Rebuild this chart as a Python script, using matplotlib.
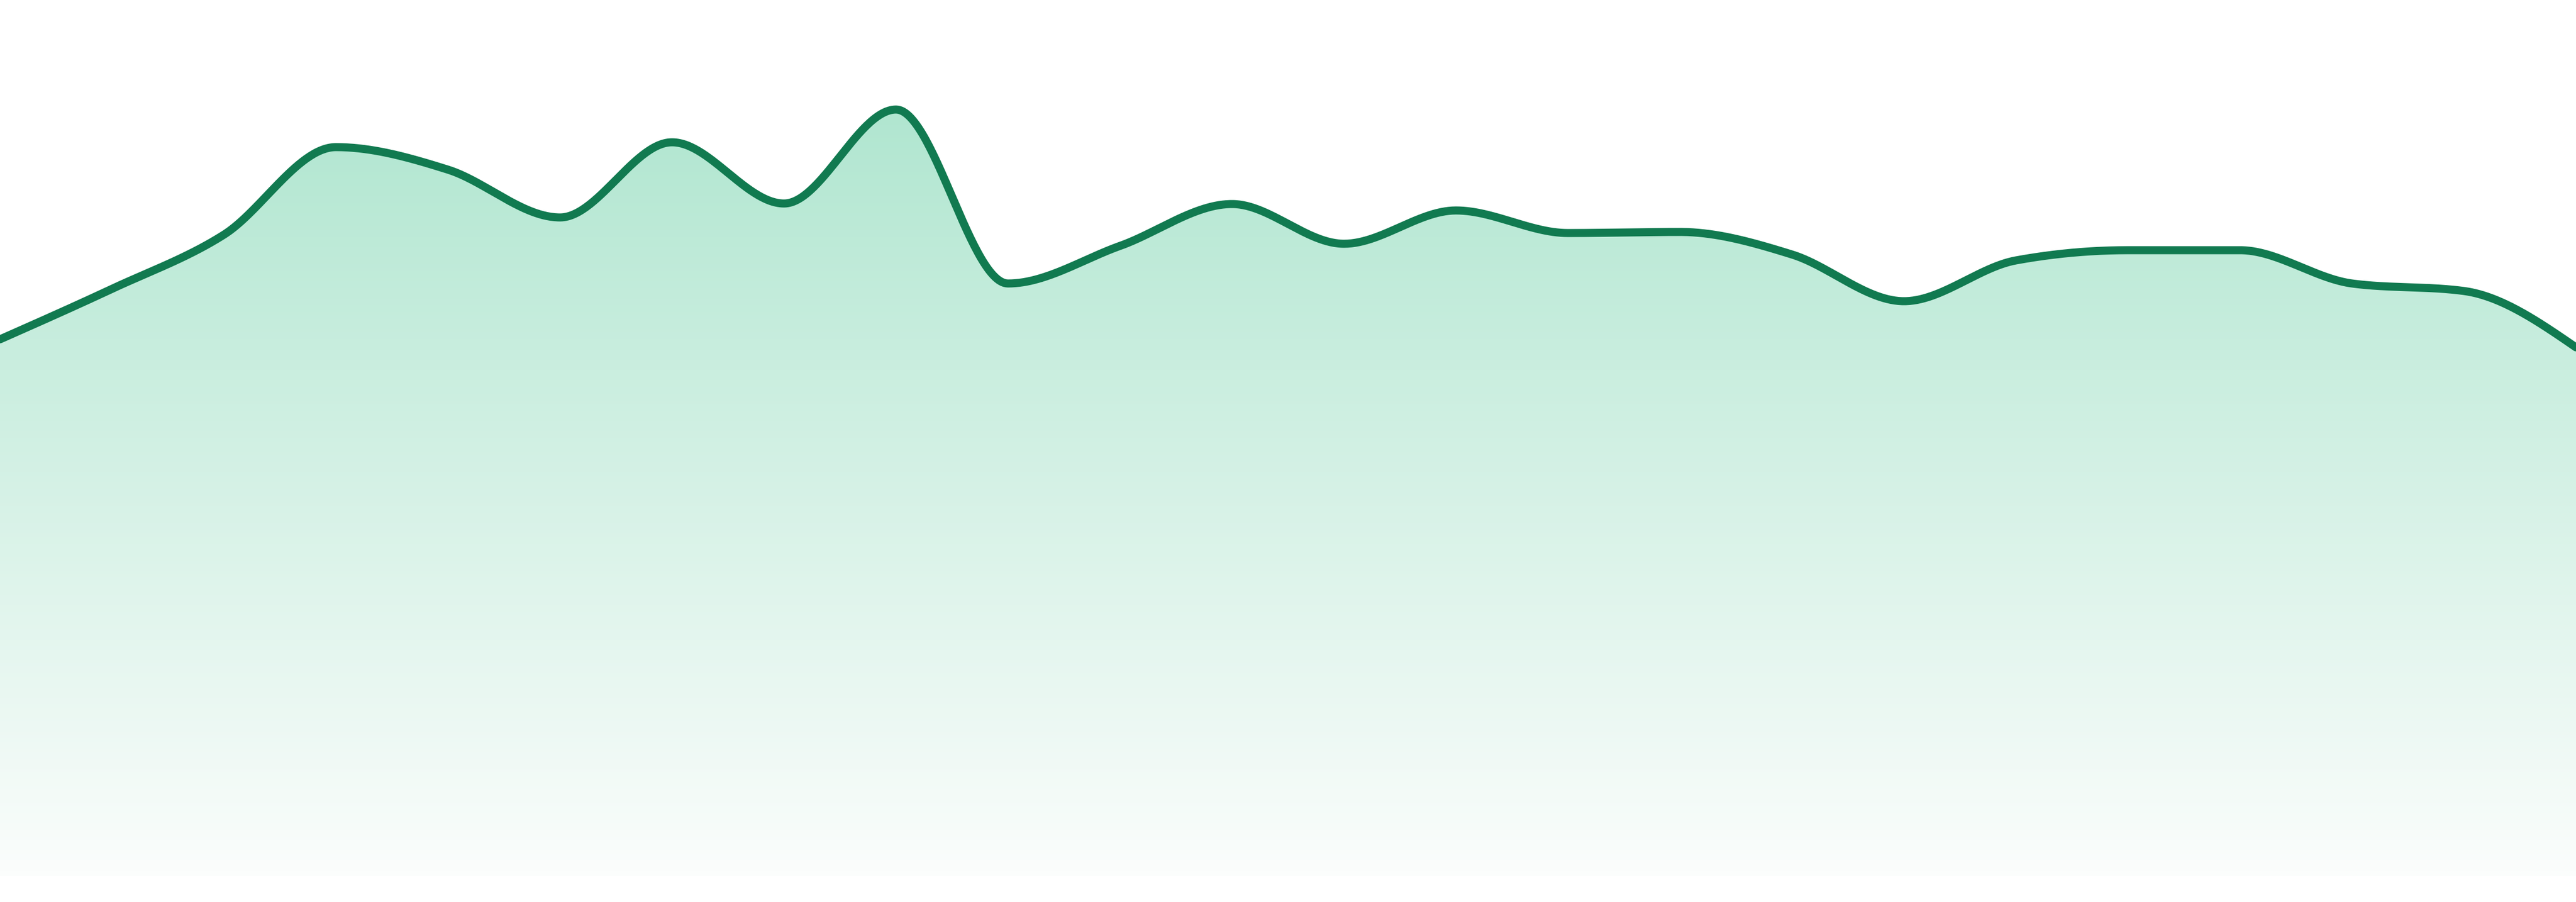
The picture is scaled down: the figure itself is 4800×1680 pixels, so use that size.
import numpy as np
import matplotlib
matplotlib.use("Agg")
import matplotlib.pyplot as plt
from matplotlib.colors import LinearSegmentedColormap

# height of each sample above the baseline
values = [1000, 1094, 1195, 1358, 1316, 1227, 1367, 1253, 1428, 1104, 1174, 1252,
          1178, 1240, 1198, 1200, 1158, 1071, 1147, 1166, 1166, 1104, 1090, 985]
steps = list(range(len(values)))

LINE_COLOR = "#117a50"
TOP_COLOR = "#a6e3ca"
BOTTOM_COLOR = "#fbfdfc"


def monotone_curve(x, y, n=60):
    """Monotone cubic interpolation (same rule as d3 curveMonotoneX)."""
    x = np.asarray(x, dtype=float)
    y = np.asarray(y, dtype=float)
    h = np.diff(x)
    s = np.diff(y) / h
    m = np.zeros_like(y)
    for i in range(1, len(y) - 1):
        s0, s1 = s[i - 1], s[i]
        p = (s0 * h[i] + s1 * h[i - 1]) / (h[i - 1] + h[i])
        sg0 = -1 if s0 < 0 else 1
        sg1 = -1 if s1 < 0 else 1
        m[i] = (sg0 + sg1) * min(abs(s0), abs(s1), 0.5 * abs(p))
    m[0] = (3 * s[0] - m[1]) / 2
    m[-1] = (3 * s[-1] - m[-2]) / 2

    xs, ys = [], []
    for i in range(len(y) - 1):
        t = np.linspace(0, 1, n, endpoint=(i == len(y) - 2))
        h00 = 2 * t**3 - 3 * t**2 + 1
        h10 = t**3 - 2 * t**2 + t
        h01 = -2 * t**3 + 3 * t**2
        h11 = t**3 - t**2
        xs.append(x[i] + t * h[i])
        ys.append(h00 * y[i] + h10 * h[i] * m[i] + h01 * y[i + 1] + h11 * h[i] * m[i + 1])
    return np.concatenate(xs), np.concatenate(ys)


fig = plt.figure(figsize=(16, 5.6), dpi=300)
ax = fig.add_axes([0, 0, 1, 1])
ax.set_xlim(steps[0], steps[-1])
ax.set_ylim(-48, 1632)
ax.axis("off")

cx, cy = monotone_curve(steps, values)

# gradient area under the curve
area = ax.fill_between(cx, cy, 0, facecolor="none", edgecolor="none")
cmap = LinearSegmentedColormap.from_list("area", [BOTTOM_COLOR, TOP_COLOR])
grad = np.linspace(0, 1, 256).reshape(-1, 1)
im = ax.imshow(grad, cmap=cmap, aspect="auto", origin="lower",
               extent=[steps[0], steps[-1], 0, 1632], interpolation="bicubic", zorder=1)
im.set_clip_path(area.get_paths()[0], transform=ax.transData)

ax.plot(cx, cy, color=LINE_COLOR, linewidth=3.6, solid_capstyle="round", zorder=2)

fig.savefig("out.png", dpi=300, facecolor="white")
